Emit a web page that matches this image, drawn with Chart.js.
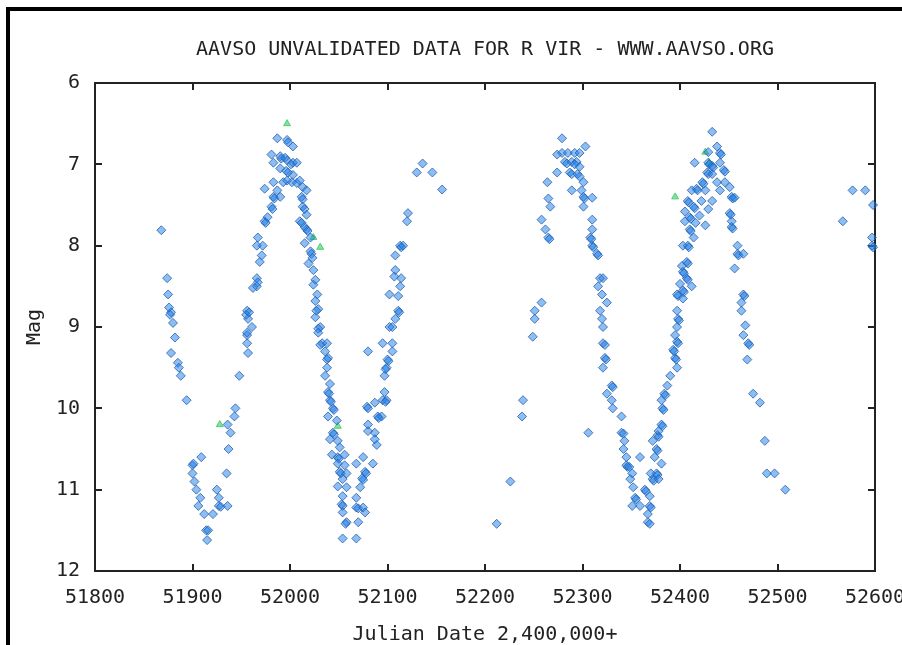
<!DOCTYPE html>
<html>
<head>
<meta charset="utf-8">
<script src="https://cdn.jsdelivr.net/npm/chart.js@4.4.1/dist/chart.umd.min.js"></script>
<style>
  body { margin: 0; background: #fff; }
  .wrap { position: relative; width: 902px; height: 645px; }
  .frame {
    position: absolute; left: 6px; top: 7px; right: -10px; bottom: -10px;
    border-top: 4px solid #000; border-left: 4px solid #000;
    pointer-events: none;
  }
</style>
</head>
<body>
<div class="wrap">
  <canvas id="lightCurve"></canvas>
  <div class="frame"></div>
</div>
<script>
const axisColor = "#222";
const fontFamily = "'DejaVu Sans Mono', 'Liberation Mono', monospace";

const xTicks = [51800, 51900, 52000, 52100, 52200, 52300, 52400, 52500, 52600];
const yTicks = [6, 7, 8, 9, 10, 11, 12];

// visual observations (blue diamonds), JD - 2400000
const visJD = [
  51868, 51874, 51875, 51876, 51878, 51877, 51880, 51882, 51878, 51885, 51886, 51888, 51894,
  51900, 51901, 51900, 51902, 51904, 51909, 51908, 51906, 51912, 51914, 51916, 51915, 51921,
  51925, 51927, 51927, 51929, 51936, 51935, 51937, 51939, 51936, 51943, 51944, 51948, 51956,
  51956, 51957,
  51956, 51961, 51956, 51957, 51955, 51958, 51966, 51966, 51967, 51962, 51969, 51971, 51966,
  51972, 51967, 51974, 51975, 51977, 51981, 51982, 51983, 51984, 51974, 51983, 51987, 51990,
  51987, 51997, 51998, 52003, 51981, 51990, 51991, 51997, 51995, 52003, 52001, 52007, 51983,
  51990, 51998, 51996, 52003, 51997, 51993, 52002, 52007, 52010, 52013, 52017,
  52012, 52013, 52013, 52015, 52017, 52010, 52012, 52015, 52017, 52018, 52021, 52015, 52021,
  52022, 52023, 52019, 52024, 52026, 52024, 52028, 52026, 52029, 52027, 52026, 52031, 52029,
  52029, 52033, 52031, 52038, 52036, 52038, 52039, 52038, 52036, 52041, 52039, 52040, 52041,
  52042, 52044, 52045, 52039, 52048, 52044, 52045, 52041, 52049, 52051, 52043, 52049, 52050,
  52056, 52049, 52056, 52051, 52052, 52058, 52054, 52049, 52058, 52054, 52053, 52054, 52054,
  52058, 52057, 52054,
  52068, 52068, 52070, 52075, 52077, 52070, 52068, 52072, 52074, 52075, 52077, 52078, 52068,
  52075, 52085, 52089, 52080, 52087, 52087, 52080, 52079, 52080, 52087, 52090, 52091, 52094,
  52095, 52099, 52098, 52097, 52080, 52097, 52099, 52098, 52100, 52101, 52095, 52105, 52105,
  52102, 52105, 52108, 52111, 52112, 52102, 52111, 52113, 52114, 52108, 52107, 52108, 52113,
  52114, 52116, 52120, 52121, 52130, 52136, 52146, 52156,
  52212, 52226, 52238, 52239,
  52258, 52251, 52251, 52249, 52258, 52262, 52265, 52266, 52267, 52265, 52264, 52274, 52274,
  52279,
  52279, 52285, 52292, 52297, 52282, 52284, 52289, 52294, 52292, 52297, 52287, 52289, 52295,
  52297, 52301, 52303, 52289, 52299, 52301, 52302, 52310, 52301, 52310, 52310, 52308, 52309,
  52310, 52311, 52315, 52316, 52318, 52321, 52316, 52320, 52325, 52318, 52320, 52321, 52321,
  52323, 52323, 52324, 52321, 52330, 52331, 52325, 52330, 52331, 52340, 52306, 52340, 52342,
  52343, 52342, 52359, 52345, 52345, 52346, 52348, 52351, 52349, 52352, 52354, 52355, 52351,
  52359, 52364, 52365, 52369, 52369, 52370, 52367, 52367, 52369, 52372, 52373, 52376, 52377,
  52378, 52370, 52381, 52374, 52376, 52377, 52372, 52377, 52378, 52378, 52381, 52382, 52382,
  52383, 52381, 52384, 52385, 52387, 52390,
  52397, 52395, 52396, 52393, 52394, 52397, 52398, 52395, 52397, 52398, 52399, 52397, 52397,
  52398, 52403, 52403, 52404, 52400, 52412, 52407, 52408, 52403, 52404, 52402, 52407, 52408,
  52403, 52408, 52409, 52414, 52410, 52411, 52426, 52405, 52416, 52410, 52411, 52420, 52405,
  52414, 52415, 52429, 52408, 52409, 52422, 52433, 52412, 52417, 52418, 52426, 52441, 52423,
  52424, 52438, 52446, 52451, 52428, 52429, 52433, 52445, 52446, 52415, 52429, 52430, 52433,
  52434, 52441, 52441, 52442, 52438, 52429, 52433,
  52453, 52454, 52456, 52451, 52452, 52453, 52453, 52454, 52459, 52459, 52460, 52465, 52456,
  52465, 52466, 52463, 52463, 52467, 52465, 52470, 52471, 52469, 52475, 52482, 52487, 52489,
  52497, 52508,
  52567, 52577, 52590, 52598, 52597, 52597, 52598
];
const visMag = [
  7.81, 8.40, 8.60, 8.76, 8.82, 8.85, 8.95, 9.13, 9.32, 9.44, 9.50, 9.60, 9.90,
  10.70, 10.68, 10.80, 10.90, 11.00, 10.60, 11.10, 11.20, 11.30, 11.50, 11.50, 11.62, 11.30,
  11.00, 11.10, 11.20, 11.21, 11.20, 10.80, 10.50, 10.30, 10.20, 10.10, 10.00, 9.60, 9.10,
  9.20, 9.32,
  9.07, 9.00, 8.80, 8.90, 8.85, 8.82, 8.40, 8.50, 8.45, 8.52, 8.20, 8.12, 8.00,
  8.00, 7.90, 7.70, 7.72, 7.65, 7.52, 7.55, 7.40, 7.42, 7.30, 7.22, 7.32, 7.40,
  6.68, 6.70, 6.73, 6.78, 6.88, 6.90, 6.93, 6.95, 6.92, 6.98, 7.00, 6.98, 6.98,
  7.05, 7.10, 7.08, 7.13, 7.20, 7.22, 7.22, 7.23, 7.20, 7.28, 7.32,
  7.40, 7.43, 7.52, 7.55, 7.62, 7.70, 7.72, 7.77, 7.80, 7.82, 7.90, 7.97, 8.07,
  8.10, 8.15, 8.22, 8.30, 8.42, 8.48, 8.60, 8.68, 8.78, 8.80, 8.88, 9.00, 9.02,
  9.07, 9.20, 9.22, 9.20, 9.30, 9.40, 9.38, 9.50, 9.60, 9.70, 9.80, 9.82, 9.90,
  9.92, 10.00, 10.02, 10.10, 10.15, 10.30, 10.32, 10.38, 10.40, 10.48, 10.57, 10.60, 10.62,
  10.57, 10.68, 10.70, 10.78, 10.80, 10.80, 10.87, 10.96, 10.97, 11.08, 11.18, 11.20, 11.28,
  11.40, 11.42, 11.60,
  11.60, 11.22, 11.23, 11.22, 11.28, 11.40, 11.10, 10.97, 10.86, 10.88, 10.78, 10.80, 10.68,
  10.60, 10.68, 10.45, 10.28, 10.30, 10.38, 10.20, 9.98, 10.00, 9.93, 10.10, 10.12, 10.10,
  9.90, 9.90, 9.92, 9.80, 9.30, 9.60, 9.50, 9.52, 9.40, 9.42, 9.20, 9.20, 9.30,
  9.00, 9.00, 8.90, 8.80, 8.82, 8.60, 8.62, 8.50, 8.40, 8.30, 8.38, 8.12, 8.00,
  8.02, 8.00, 7.70, 7.60, 7.10, 6.99, 7.10, 7.31,
  11.42, 10.90, 10.10, 9.90,
  8.70, 8.80, 8.90, 9.12, 7.68, 7.80, 7.90, 7.92, 7.52, 7.42, 7.22, 7.10, 6.88,
  6.68,
  6.86, 6.86, 6.86, 6.86, 6.97, 6.99, 6.97, 6.97, 7.00, 7.03, 7.10, 7.12, 7.12,
  7.15, 7.22, 6.78, 7.32, 7.32, 7.40, 7.42, 7.41, 7.52, 7.68, 7.80, 7.90, 7.92,
  8.00, 8.02, 8.10, 8.12, 8.40, 8.40, 8.50, 8.60, 8.70, 8.80, 8.90, 9.00, 9.20,
  9.22, 9.38, 9.40, 9.50, 9.72, 9.74, 9.82, 9.90, 10.00, 10.10, 10.30, 10.30, 10.31,
  10.40, 10.50, 10.60, 10.60, 10.70, 10.72, 10.72, 10.80, 10.87, 10.97, 11.10, 11.12, 11.20,
  11.20, 11.00, 11.02, 11.08, 11.20, 11.22, 11.30, 11.40, 11.42, 10.87, 10.89, 10.80, 10.82,
  10.87, 10.80, 10.68, 10.60, 10.50, 10.52, 10.40, 10.33, 10.35, 10.28, 10.20, 10.22, 10.00,
  10.02, 9.90, 9.82, 9.84, 9.72, 9.60,
  9.50, 9.38, 9.40, 9.28, 9.30, 9.18, 9.20, 9.10, 9.00, 8.90, 8.92, 8.80, 8.60,
  8.62, 8.65, 8.55, 8.57, 8.47, 8.50, 8.40, 8.42, 8.32, 8.34, 8.25, 8.20, 8.22,
  8.00, 8.00, 8.02, 7.90, 7.80, 7.82, 7.75, 7.70, 7.72, 7.65, 7.67, 7.63, 7.58,
  7.52, 7.54, 7.55, 7.45, 7.47, 7.45, 7.45, 7.32, 7.30, 7.32, 7.32, 7.32, 7.22,
  7.24, 7.22, 7.22, 7.28, 7.10, 7.12, 7.12, 7.07, 7.09, 6.98, 6.98, 7.00, 7.02,
  7.04, 6.98, 6.86, 6.88, 6.78, 6.85, 6.60,
  7.40, 7.42, 7.41, 7.60, 7.62, 7.70, 7.77, 7.79, 8.00, 8.10, 8.12, 8.10, 8.28,
  8.60, 8.62, 8.70, 8.80, 8.98, 9.10, 9.20, 9.22, 9.40, 9.82, 9.93, 10.40, 10.80,
  10.80, 11.00,
  7.70, 7.32, 7.32, 7.50, 7.90, 8.00, 8.02
];

// other band (green triangles)
const vJD = [51928, 51997, 52024, 52031, 52049, 52395, 52426, 52430];
const vMag = [10.20, 6.50, 7.90, 8.02, 10.22, 7.40, 6.85, 6.98];

const toPoints = (xs, ys) => xs.map((x, i) => ({ x: x, y: ys[i] }));

// plot frame with inward ticks on all four sides
const frameTicks = {
  id: "frameTicks",
  beforeDatasetsDraw(chart) {
    const { ctx, chartArea: a, scales } = chart;
    const len = 7;
    ctx.save();
    ctx.strokeStyle = axisColor;
    ctx.lineWidth = 2;
    ctx.strokeRect(a.left, a.top, a.right - a.left, a.bottom - a.top);
    ctx.beginPath();
    xTicks.slice(1, -1).forEach((v) => {
      const px = Math.round(scales.x.getPixelForValue(v));
      ctx.moveTo(px, a.bottom);
      ctx.lineTo(px, a.bottom - len);
      ctx.moveTo(px, a.top);
      ctx.lineTo(px, a.top + len);
    });
    yTicks.slice(1, -1).forEach((v) => {
      const py = Math.round(scales.y.getPixelForValue(v));
      ctx.moveTo(a.left, py);
      ctx.lineTo(a.left + len, py);
      ctx.moveTo(a.right, py);
      ctx.lineTo(a.right - len, py);
    });
    ctx.stroke();
    ctx.restore();
  },
};

const chartOptions = {
  responsive: true,
  maintainAspectRatio: false,
  animation: false,
  layout: {
    padding: { left: 0, right: 27, top: 0, bottom: 0 },
  },
  scales: {
    x: {
      type: "linear",
      min: 51800,
      max: 52600,
      afterBuildTicks: (scale) => {
        scale.ticks = xTicks.map((v) => ({ value: v }));
      },
      afterFit: (scale) => {
        scale.height = 74;
        scale.paddingLeft = 0;
        scale.paddingRight = 0;
      },
      grid: { display: false, drawTicks: false },
      border: { display: false },
      ticks: {
        padding: 15,
        color: axisColor,
        font: { family: fontFamily, size: 20 },
        callback: (v) => String(v),
      },
      title: {
        display: true,
        text: "Julian Date 2,400,000+",
        color: axisColor,
        font: { family: fontFamily, size: 20, lineHeight: 1 },
        padding: { top: 0, bottom: 0 },
      },
    },
    y: {
      min: 6,
      max: 12,
      reverse: true,
      afterBuildTicks: (scale) => {
        scale.ticks = yTicks.map((v) => ({ value: v }));
      },
      afterFit: (scale) => {
        scale.width = 95;
        scale.paddingTop = 0;
        scale.paddingBottom = 0;
      },
      grid: { display: false, drawTicks: false },
      border: { display: false },
      ticks: {
        padding: 15,
        color: axisColor,
        font: { family: fontFamily, size: 20 },
        callback: (v) => String(v),
      },
      title: {
        display: true,
        text: "Mag",
        color: axisColor,
        font: { family: fontFamily, size: 20, lineHeight: 1 },
        padding: { top: 25, bottom: 0 },
      },
    },
  },
  plugins: {
    legend: { display: false },
    tooltip: { enabled: false },
    title: {
      display: true,
      fullSize: false,
      text: "AAVSO UNVALIDATED DATA FOR R VIR - WWW.AAVSO.ORG",
      color: axisColor,
      font: { family: fontFamily, size: 20, weight: "normal", lineHeight: 1.2 },
      padding: { top: 38, bottom: 21 },
    },
  },
};

function lightCurveDraw() {
  new Chart(document.querySelector("#lightCurve"), {
    type: "scatter",
    data: {
      datasets: [
        {
          data: toPoints(visJD, visMag),
          pointStyle: "rectRot",
          pointRadius: 4.5,
          borderWidth: 1,
          borderColor: "rgba(40,95,175,0.8)",
          backgroundColor: "rgba(26,126,232,0.5)",
          clip: 6,
        },
        {
          data: toPoints(vJD, vMag),
          pointStyle: "triangle",
          pointRadius: 4,
          borderWidth: 1,
          borderColor: "#55cc77",
          backgroundColor: "#7fe39a",
          clip: 6,
        },
      ],
    },
    options: chartOptions,
    plugins: [frameTicks],
  });
}

lightCurveDraw();
</script>
</body>
</html>
